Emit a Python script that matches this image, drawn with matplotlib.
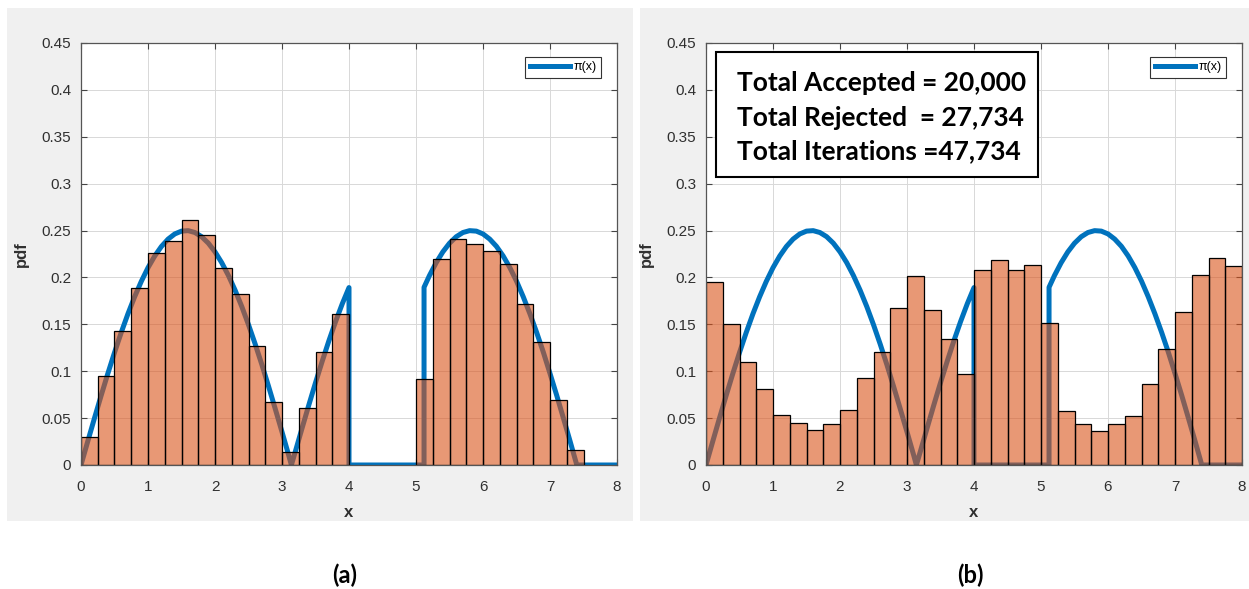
import numpy as np
import matplotlib
matplotlib.use("Agg")
import matplotlib.pyplot as plt
from matplotlib.patches import Rectangle

# ---------------- data ----------------
bin_edges = [0.0, 0.25, 0.5, 0.75, 1.0, 1.25, 1.5, 1.75, 2.0, 2.25, 2.5, 2.75,
             3.0, 3.25, 3.5, 3.75, 4.0, 4.25, 4.5, 4.75, 5.0, 5.25, 5.5, 5.75,
             6.0, 6.25, 6.5, 6.75, 7.0, 7.25, 7.5, 7.75, 8.0]

hist_a = [0.030, 0.095, 0.143, 0.189, 0.226, 0.239, 0.261, 0.245,
          0.210, 0.182, 0.127, 0.067, 0.014, 0.061, 0.120, 0.161,
          0.0, 0.0, 0.0, 0.0, 0.092, 0.220, 0.241, 0.236,
          0.228, 0.214, 0.172, 0.131, 0.069, 0.016, 0.0, 0.0]

hist_b = [0.195, 0.150, 0.110, 0.081, 0.053, 0.045, 0.037, 0.044,
          0.059, 0.093, 0.120, 0.167, 0.202, 0.165, 0.134, 0.097,
          0.208, 0.219, 0.208, 0.213, 0.151, 0.058, 0.044, 0.036,
          0.044, 0.052, 0.086, 0.124, 0.163, 0.203, 0.221, 0.212]

# target density pi(x)
curve_x = [0.0, 0.1, 0.2, 0.3, 0.4, 0.5, 0.6, 0.7, 0.8, 0.9, 1.0, 1.1, 1.2,
           1.3, 1.4, 1.5, 1.6, 1.7, 1.8, 1.9, 2.0, 2.1, 2.2, 2.3, 2.4, 2.5,
           2.6, 2.7, 2.8, 2.9, 3.0, 3.1, 3.14, 3.2, 3.3, 3.4, 3.5, 3.6, 3.7,
           3.8, 3.9, 4.0, 4.0, 5.12, 5.12, 5.2, 5.3, 5.4, 5.5, 5.6, 5.7, 5.8,
           5.9, 6.0, 6.1, 6.2, 6.3, 6.4, 6.5, 6.6, 6.7, 6.8, 6.9, 7.0, 7.1,
           7.2, 7.3, 7.4, 8.0]
curve_y = [0.0, 0.025, 0.0497, 0.0739, 0.0974, 0.1199, 0.1412, 0.1611,
           0.1793, 0.1958, 0.2104, 0.2228, 0.2330, 0.2409, 0.2464, 0.2494,
           0.2499, 0.2479, 0.2435, 0.2366, 0.2273, 0.2158, 0.2021, 0.1864,
           0.1689, 0.1496, 0.1289, 0.1069, 0.0837, 0.0597, 0.0353, 0.0104,
           0.0, 0.0146, 0.0394, 0.0639, 0.0877, 0.1106, 0.1325, 0.1530,
           0.1720, 0.1892, 0.0, 0.0, 0.1895, 0.2019, 0.2156, 0.2272, 0.2365,
           0.2434, 0.2479, 0.2499, 0.2494, 0.2464, 0.2409, 0.2332, 0.2230,
           0.2106, 0.1961, 0.1795, 0.1613, 0.1415, 0.1204, 0.0976, 0.0743,
           0.0500, 0.0253, 0.0, 0.0]

x_ticks = [0, 1, 2, 3, 4, 5, 6, 7, 8]
y_ticks = [0, 0.05, 0.1, 0.15, 0.2, 0.25, 0.3, 0.35, 0.4, 0.45]
y_ticklabels = ["0", "0.05", "0.1", "0.15", "0.2", "0.25", "0.3", "0.35", "0.4", "0.45"]

stats_lines = ["Total Accepted = 20,000",
               "Total Rejected  = 27,734",
               "Total Iterations =47,734"]
panel_labels = ["(a)", "(b)"]

# ---------------- figure ----------------
W, H = 1249, 589
fig = plt.figure(figsize=(W / 100, H / 100), dpi=100)
fig.patch.set_facecolor("white")

def fx(px):
    return px / W

def fy(py):
    return 1 - py / H

# background axes with gray panels
bg = fig.add_axes([0, 0, 1, 1], zorder=-10)
bg.set_xlim(0, 1)
bg.set_ylim(0, 1)
bg.axis("off")
for (x0, x1) in [(7, 633), (640, 1249)]:
    bg.add_patch(Rectangle((fx(x0), fy(521)), fx(x1 - x0), (521 - 8) / H,
                           facecolor="#f0f0f0", edgecolor="none"))

line_color = "#0072BD"
bar_color = "#D95319"
tick_color = "#303030"

axes_px = [(81, 617), (706, 1242)]
hists = [hist_a, hist_b]

for i, ((ax0, ax1), h) in enumerate(zip(axes_px, hists)):
    ax = fig.add_axes([fx(ax0), fy(465), fx(ax1 - ax0), (465 - 43) / H], zorder=1)
    ax.set_facecolor("white")
    ax.plot(curve_x, curve_y, color=line_color, lw=3.6, zorder=2,
            solid_joinstyle="round", label="π(x)")
    lefts = [bin_edges[k] for k in range(len(h)) if h[k] > 0]
    widths = [bin_edges[k + 1] - bin_edges[k] for k in range(len(h)) if h[k] > 0]
    heights = [v for v in h if v > 0]
    ax.bar(lefts, heights, width=widths, align="edge", color=bar_color, alpha=0.6,
           edgecolor="none", zorder=3)
    ax.bar(lefts, heights, width=widths, align="edge", fill=False,
           edgecolor="black", lw=0.9, zorder=4)
    ax.set_xlim(0, 8)
    ax.set_ylim(0, 0.45)
    ax.set_xticks(x_ticks)
    ax.set_xticklabels([str(t) for t in x_ticks])
    ax.set_yticks(y_ticks)
    ax.set_yticklabels(y_ticklabels)
    ax.grid(True, color="#d8d8d8", lw=0.7, zorder=0)
    ax.set_axisbelow(True)
    ax.tick_params(direction="in", top=True, right=True, length=4,
                   labelsize=11, labelcolor=tick_color, color="#444444", pad=7,
                   width=0.8)
    ax.tick_params(axis="x", pad=11)
    for s in ax.spines.values():
        s.set_color("#555555")
        s.set_linewidth(0.9)
        s.set_zorder(6)
    ax.set_xlabel("x", fontsize=12, fontweight="bold", color=tick_color,
                  family="Liberation Sans", labelpad=8)
    ax.set_ylabel("pdf", fontsize=12, fontweight="bold", color=tick_color,
                  family="Liberation Sans", labelpad=9)
    for lab in ax.get_xticklabels() + ax.get_yticklabels():
        lab.set_family("Liberation Sans")
    leg = ax.legend(loc="upper right", bbox_to_anchor=(1 - 16 / 536, 1 - 14 / 422),
                    handlelength=3.2, handletextpad=0.3,
                    borderpad=0.35, borderaxespad=0, fancybox=False,
                    framealpha=1, edgecolor="#333333",
                    prop={"family": "Liberation Sans", "size": 9})
    leg.get_frame().set_linewidth(0.8)
    leg.set_zorder(7)

    # panel label
    fig.text(fx((ax0 + ax1) / 2 - 4), fy(575), panel_labels[i], ha="center",
             va="center", fontsize=17, fontweight="bold", family="Lato")

    if i == 1:
        ax.add_patch(Rectangle((10 / 536, (465 - 177) / 422), (1038 - 716) / 536,
                               (177 - 52) / 422, transform=ax.transAxes,
                               facecolor="white", edgecolor="black", lw=1.5,
                               zorder=8))
        for j, (txt, yy) in enumerate(zip(stats_lines, [83, 118, 151])):
            ax.text(31 / 536, (465 - yy) / 422, txt, transform=ax.transAxes,
                    ha="left", va="center", fontsize=19, fontweight="bold",
                    family="Lato", color="black", zorder=9)

fig.savefig("out.png", dpi=100, facecolor="white")
